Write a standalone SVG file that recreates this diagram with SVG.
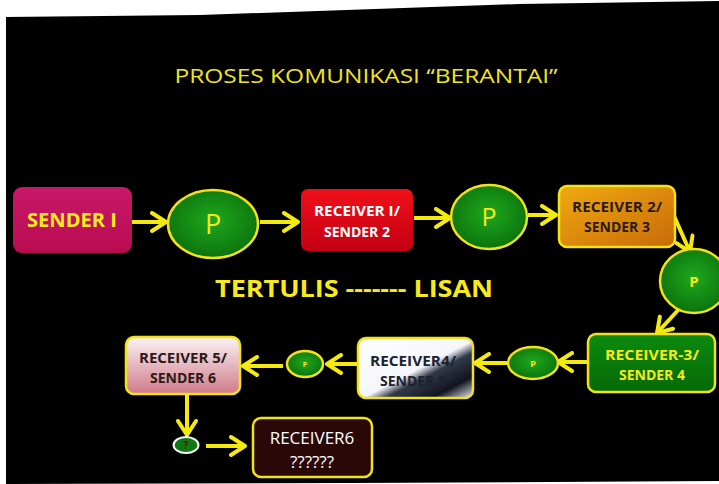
<svg xmlns="http://www.w3.org/2000/svg" width="719" height="484" viewBox="0 0 719 484">
<defs>
<style>
.lbl{font-family:"Open Sans","Liberation Sans",sans-serif;font-weight:bold;text-anchor:middle}
.y{fill:#f7ea1c}
.w{fill:#ffffff}
.d{fill:#2a1a10}
.box{stroke:#f2e21a;stroke-width:2.5}
.ell{stroke:#f2e21a;stroke-width:2.5;fill:url(#gg)}
.con{fill:none;stroke:#f4ea10;stroke-width:4;marker-end:url(#ah)}
</style>
<radialGradient id="gg" cx="0.5" cy="0.45" r="0.6">
<stop offset="0" stop-color="#1fa81c"/>
<stop offset="1" stop-color="#0a6e0c"/>
</radialGradient>
<linearGradient id="gred" x1="0" y1="0" x2="0" y2="1">
<stop offset="0" stop-color="#f0101a"/>
<stop offset="1" stop-color="#c40012"/>
</linearGradient>
<linearGradient id="gpink" x1="0" y1="0" x2="0" y2="1">
<stop offset="0" stop-color="#c8186a"/>
<stop offset="1" stop-color="#b80c50"/>
</linearGradient>
<linearGradient id="gorange" x1="0" y1="0" x2="1" y2="1">
<stop offset="0" stop-color="#f0aa10"/>
<stop offset="1" stop-color="#c86a08"/>
</linearGradient>
<linearGradient id="ggreen" x1="0" y1="0" x2="0" y2="1">
<stop offset="0" stop-color="#0c8a0e"/>
<stop offset="1" stop-color="#066a08"/>
</linearGradient>
<linearGradient id="gwhite" x1="0" y1="0" x2="1" y2="1">
<stop offset="0" stop-color="#ffffff"/>
<stop offset="0.52" stop-color="#f4f6fa"/>
<stop offset="0.62" stop-color="#303848"/>
<stop offset="0.82" stop-color="#10141e"/>
<stop offset="1" stop-color="#e8ecf4"/>
</linearGradient>
<linearGradient id="grose" x1="0" y1="0" x2="0" y2="1">
<stop offset="0" stop-color="#fbf3f3"/>
<stop offset="1" stop-color="#d07a8a"/>
</linearGradient>
<marker id="ah" viewBox="0 0 20 22" refX="17" refY="11" markerWidth="20" markerHeight="22" markerUnits="userSpaceOnUse" orient="auto">
<path d="M3,2 L17,11 L3,20" fill="none" stroke="#f4ea10" stroke-width="4" stroke-linecap="round" stroke-linejoin="round"/>
</marker>
</defs>
<rect x="0" y="0" width="719" height="484" fill="#ffffff"/>
<polygon points="6,17 200,15 519,4 719,1 719,481 350,483 6,484" fill="#000000"/>
<text x="366" y="83" font-family="Open Sans, Liberation Sans, sans-serif" font-size="20" fill="#f2e41c" text-anchor="middle" textLength="383" lengthAdjust="spacingAndGlyphs">PROSES KOMUNIKASI “BERANTAI”</text>
<text x="354" y="297" class="lbl y" font-size="24" textLength="278" lengthAdjust="spacingAndGlyphs">TERTULIS ------- LISAN</text>
<g id="connectors">
<path class="con" d="M127,222 L166,222"/>
<path class="con" d="M260,222 L298,222"/>
<path class="con" d="M414,218 L450,218"/>
<path class="con" d="M528,215 L556,215"/>
<path class="con" d="M674,216 L690,252"/>
<path class="con" d="M680,308 L657,333"/>
<path class="con" d="M590,362 L558,362"/>
<path class="con" d="M508,363 L475,363"/>
<path class="con" d="M360,364 L327,364"/>
<path class="con" d="M283,366 L243,366"/>
<path class="con" d="M187,395 L187,435"/>
<path class="con" d="M206,446 L245,446"/>
</g>
<g id="sender1">
<rect x="13" y="187" width="119" height="66" rx="9" fill="url(#gpink)"/>
<text x="72" y="227" class="lbl y" font-size="19" textLength="90" lengthAdjust="spacingAndGlyphs">SENDER I</text>
</g>
<g id="p1">
<ellipse cx="213" cy="224" rx="45" ry="34" class="ell"/>
<text x="213" y="234" font-family="Open Sans, Liberation Sans, sans-serif" font-size="27" fill="#f7ea1c" text-anchor="middle">P</text>
</g>
<g id="receiver1">
<rect x="301" y="189" width="112" height="62" rx="7" fill="url(#gred)"/>
<text x="357" y="216" class="lbl w" font-size="14" textLength="86" lengthAdjust="spacingAndGlyphs">RECEIVER I/</text>
<text x="357" y="237" class="lbl w" font-size="14">SENDER 2</text>
</g>
<g id="p2">
<ellipse cx="489" cy="217" rx="38" ry="32" class="ell"/>
<text x="489" y="226" font-family="Open Sans, Liberation Sans, sans-serif" font-size="25" fill="#f7ea1c" text-anchor="middle">P</text>
</g>
<g id="receiver2">
<rect x="559" y="186" width="116" height="61" rx="8" class="box" fill="url(#gorange)"/>
<text x="617" y="212" class="lbl d" font-size="14" textLength="90" lengthAdjust="spacingAndGlyphs">RECEIVER 2/</text>
<text x="617" y="232" class="lbl d" font-size="14">SENDER 3</text>
</g>
<g id="p3">
<ellipse cx="694" cy="281" rx="34" ry="32" class="ell"/>
<text x="694" y="287" font-family="Open Sans, Liberation Sans, sans-serif" font-weight="bold" font-size="15" fill="#f7ea1c" text-anchor="middle">P</text>
</g>
<g id="receiver3">
<rect x="588" y="334" width="127" height="58" rx="8" class="box" fill="url(#ggreen)"/>
<text x="652" y="360" class="lbl y" font-size="14" textLength="94" lengthAdjust="spacingAndGlyphs">RECEIVER-3/</text>
<text x="652" y="380" class="lbl y" font-size="14">SENDER 4</text>
</g>
<g id="p4">
<ellipse cx="533" cy="363" rx="25" ry="16" class="ell"/>
<text x="533" y="367" font-family="Open Sans, Liberation Sans, sans-serif" font-weight="bold" font-size="9" fill="#f7ea1c" text-anchor="middle">P</text>
</g>
<g id="receiver4">
<rect x="358" y="338" width="115" height="60" rx="8" class="box" fill="url(#gwhite)"/>
<text x="413" y="366" class="lbl" font-size="14" fill="#1c2230" textLength="86" lengthAdjust="spacingAndGlyphs">RECEIVER4/</text>
<text x="413" y="386" class="lbl" font-size="14" fill="#1c2230">SENDER 5</text>
</g>
<g id="p5">
<ellipse cx="305" cy="364" rx="18" ry="13" class="ell"/>
<text x="305" y="367" font-family="Open Sans, Liberation Sans, sans-serif" font-weight="bold" font-size="7" fill="#f7ea1c" text-anchor="middle">P</text>
</g>
<g id="receiver5">
<rect x="126" y="337" width="114" height="57" rx="8" class="box" fill="url(#grose)"/>
<text x="183" y="363" class="lbl" font-size="14" fill="#2a1a18" textLength="88" lengthAdjust="spacingAndGlyphs">RECEIVER 5/</text>
<text x="183" y="383" class="lbl" font-size="14" fill="#2a1a18">SENDER 6</text>
</g>
<g id="p6">
<ellipse cx="186" cy="445" rx="12.5" ry="8" fill="#0c7a10" stroke="#ffffff" stroke-width="2"/>
<text x="186" y="449" font-family="Open Sans, Liberation Sans, sans-serif" font-weight="bold" font-size="10" fill="#5a1010" text-anchor="middle">?</text>
</g>
<g id="receiver6">
<rect x="253" y="418" width="119" height="59" rx="8" class="box" fill="#2a0808"/>
<text x="312" y="444" font-family="Open Sans, Liberation Sans, sans-serif" font-size="17" fill="#ffffff" text-anchor="middle">RECEIVER6</text>
<text x="312" y="468" font-family="Open Sans, Liberation Sans, sans-serif" font-size="17" fill="#ffffff" text-anchor="middle">??????</text>
</g>
</svg>
